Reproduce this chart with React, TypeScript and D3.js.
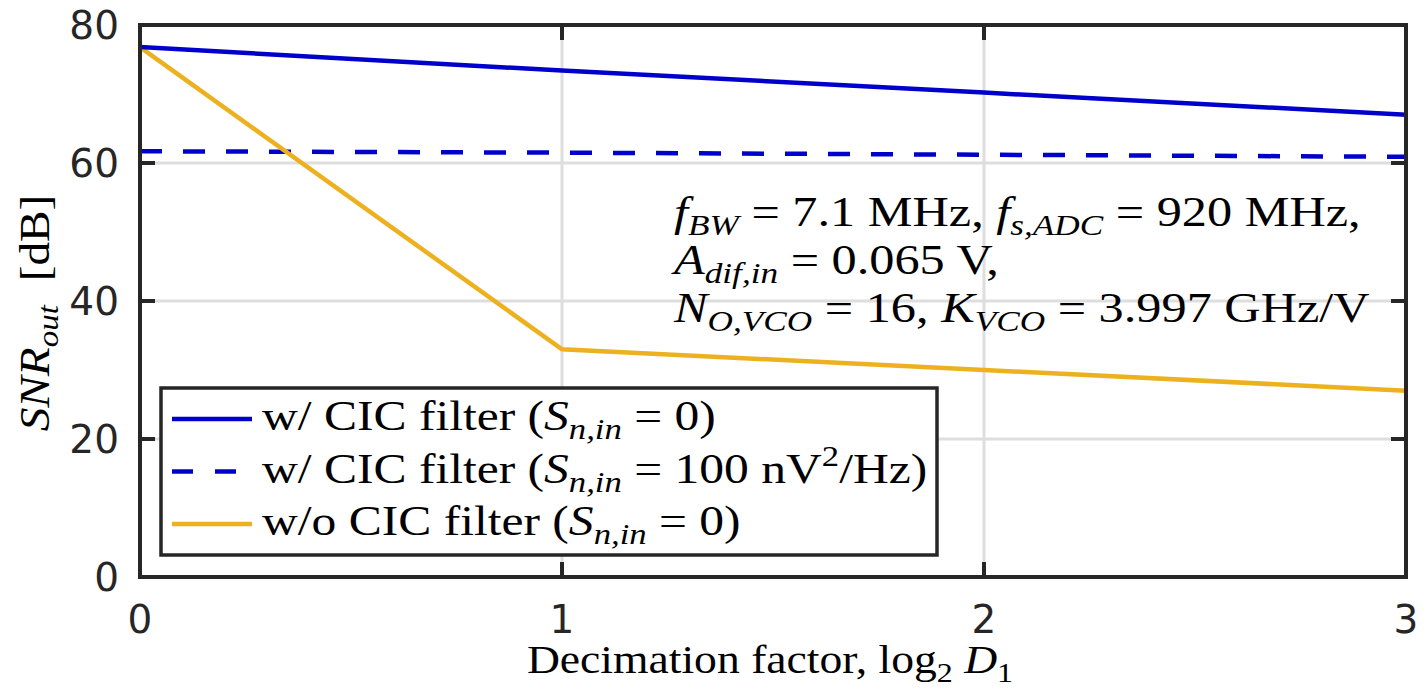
import React from "react";
import * as d3 from "d3";

const xValues = [0, 1, 2, 3];
const cicNoiseless = [76.8, 73.4, 70.2, 67.0];
const cicNoisy = [61.7, 61.5, 61.2, 60.9];
const noCic = [76.8, 33.0, 30.0, 27.0];
const xTicks = [0, 1, 2, 3];
const yTicks = [0, 20, 40, 60, 80];

type Seg = { t: string; it?: boolean; sub?: boolean; sup?: boolean };

const W = 1426;
const H = 691;
const M = { left: 140, right: 1406, top: 25, bottom: 577 };

const SERIF = "'Liberation Serif', 'Times New Roman', serif";
const SANS = "'DejaVu Sans', sans-serif";

function RichText({ x, y, segs, size, anchor = "start", sx = 1, rotate = 0 }: { x: number; y: number; segs: Seg[]; size: number; anchor?: string; sx?: number; rotate?: number }) {
  const out: React.ReactNode[] = [];
  let shifted = 0;
  segs.forEach((s, i) => {
    const target = s.sub ? size * 0.22 : s.sup ? -size * 0.4 : 0;
    const dy = target - shifted;
    shifted = target;
    out.push(
      <tspan key={i} dy={dy} fontStyle={s.it ? "italic" : "normal"} fontSize={s.sub || s.sup ? size * 0.7 : size}>
        {s.t}
      </tspan>
    );
  });
  return (
    <text
      x={0}
      y={0}
      fontFamily={SERIF}
      fontSize={size}
      textAnchor={anchor}
      fill="#000"
      transform={`translate(${x},${y}) rotate(${rotate}) scale(${sx},1)`}
      style={{ whiteSpace: "pre" }}
    >
      {out}
    </text>
  );
}

export default function App() {
  const x = d3.scaleLinear().domain([0, 3]).range([M.left, M.right]);
  const y = d3.scaleLinear().domain([0, 80]).range([M.bottom, M.top]);
  const line = d3
    .line<number>()
    .x((_, i) => x(xValues[i]))
    .y((d) => y(d));

  const blue = "#0000CD";
  const yellow = "#EDB120";
  const axisColor = "#262626";
  const tickLen = 15;

  const legendRows: { color: string; dash?: string; segs: Seg[] }[] = [
    { color: blue, segs: [{ t: "w/ CIC filter (" }, { t: "S", it: true }, { t: "n,in", it: true, sub: true }, { t: " = 0)" }] },
    {
      color: blue,
      dash: "21 22",
      segs: [
        { t: "w/ CIC filter (" },
        { t: "S", it: true },
        { t: "n,in", it: true, sub: true },
        { t: " = 100 nV" },
        { t: "2", sup: true },
        { t: "/Hz)" },
      ],
    },
    { color: yellow, segs: [{ t: "w/o CIC filter (" }, { t: "S", it: true }, { t: "n,in", it: true, sub: true }, { t: " = 0)" }] },
  ];

  const legendY0 = 419;
  const legendDy = 52.5;
  const annSize = 43;
  const annSx = 1.17;

  return (
    <svg width={W} height={H} style={{ display: "block", position: "absolute", left: 0, top: 0, background: "#fff" }}>
      <rect x={0} y={0} width={W} height={H} fill="#fff" />
      {/* grid */}
      {xTicks.slice(1, -1).map((t) => (
        <line key={"gx" + t} x1={x(t)} x2={x(t)} y1={M.top} y2={M.bottom} stroke="#dedede" strokeWidth={3} />
      ))}
      {yTicks.slice(1, -1).map((t) => (
        <line key={"gy" + t} x1={M.left} x2={M.right} y1={y(t)} y2={y(t)} stroke="#dedede" strokeWidth={3} />
      ))}
      {/* ticks */}
      {xTicks.map((t) => (
        <g key={"tx" + t}>
          <line x1={x(t)} x2={x(t)} y1={M.bottom} y2={M.bottom - tickLen} stroke={axisColor} strokeWidth={4} />
          <line x1={x(t)} x2={x(t)} y1={M.top} y2={M.top + tickLen} stroke={axisColor} strokeWidth={4} />
          <text x={x(t)} y={633} textAnchor="middle" fontFamily={SANS} fontSize={39} fill="#262626">
            {t}
          </text>
        </g>
      ))}
      {yTicks.map((t) => (
        <g key={"ty" + t}>
          <line x1={M.left} x2={M.left + tickLen} y1={y(t)} y2={y(t)} stroke={axisColor} strokeWidth={4} />
          <line x1={M.right} x2={M.right - tickLen} y1={y(t)} y2={y(t)} stroke={axisColor} strokeWidth={4} />
          <text x={119} y={y(t)} dy="0.36em" textAnchor="end" fontFamily={SANS} fontSize={39} fill="#262626">
            {t}
          </text>
        </g>
      ))}
      {/* series */}
      <path d={line(cicNoisy) || ""} fill="none" stroke={blue} strokeWidth={4.5} strokeDasharray="22 21" />
      <path d={line(noCic) || ""} fill="none" stroke={yellow} strokeWidth={4.5} />
      <path d={line(cicNoiseless) || ""} fill="none" stroke={blue} strokeWidth={4.5} />
      {/* box */}
      <rect x={M.left} y={M.top} width={M.right - M.left} height={M.bottom - M.top} fill="none" stroke={axisColor} strokeWidth={4} />
      {/* annotation */}
      <RichText
        x={674}
        y={226}
        size={annSize}
        sx={annSx}
        segs={[
          { t: "f", it: true },
          { t: "BW", it: true, sub: true },
          { t: " = 7.1 MHz, " },
          { t: "f", it: true },
          { t: "s,ADC", it: true, sub: true },
          { t: " = 920 MHz," },
        ]}
      />
      <RichText x={674} y={274} size={annSize} sx={annSx} segs={[{ t: "A", it: true }, { t: "dif,in", it: true, sub: true }, { t: " = 0.065 V," }]} />
      <RichText
        x={674}
        y={322}
        size={annSize}
        sx={annSx}
        segs={[
          { t: "N", it: true },
          { t: "O,VCO", it: true, sub: true },
          { t: " = 16, " },
          { t: "K", it: true },
          { t: "VCO", it: true, sub: true },
          { t: " = 3.997 GHz/V" },
        ]}
      />
      {/* legend */}
      <rect x={161} y={388} width={776} height={167} fill="#fff" stroke={axisColor} strokeWidth={3.5} />
      {legendRows.map((r, i) => (
        <g key={"lg" + i}>
          <line x1={172} x2={252} y1={legendY0 + i * legendDy} y2={legendY0 + i * legendDy} stroke={r.color} strokeWidth={4.5} strokeDasharray={r.dash} />
          <RichText x={262} y={legendY0 + i * legendDy + 11} size={42} sx={1.18} segs={r.segs} />
        </g>
      ))}
      {/* axis labels */}
      <RichText x={770} y={673} size={39} sx={1.17} anchor="middle" segs={[{ t: "Decimation factor, log" }, { t: "2", sub: true }, { t: " " }, { t: "D", it: true }, { t: "1", sub: true }]} />
      <RichText
        x={49}
        y={313}
        size={43}
        sx={1.1}
        rotate={-90}
        anchor="middle"
        segs={[{ t: "SNR", it: true }, { t: "out", it: true, sub: true }, { t: "  [dB]" }]}
      />
    </svg>
  );
}
